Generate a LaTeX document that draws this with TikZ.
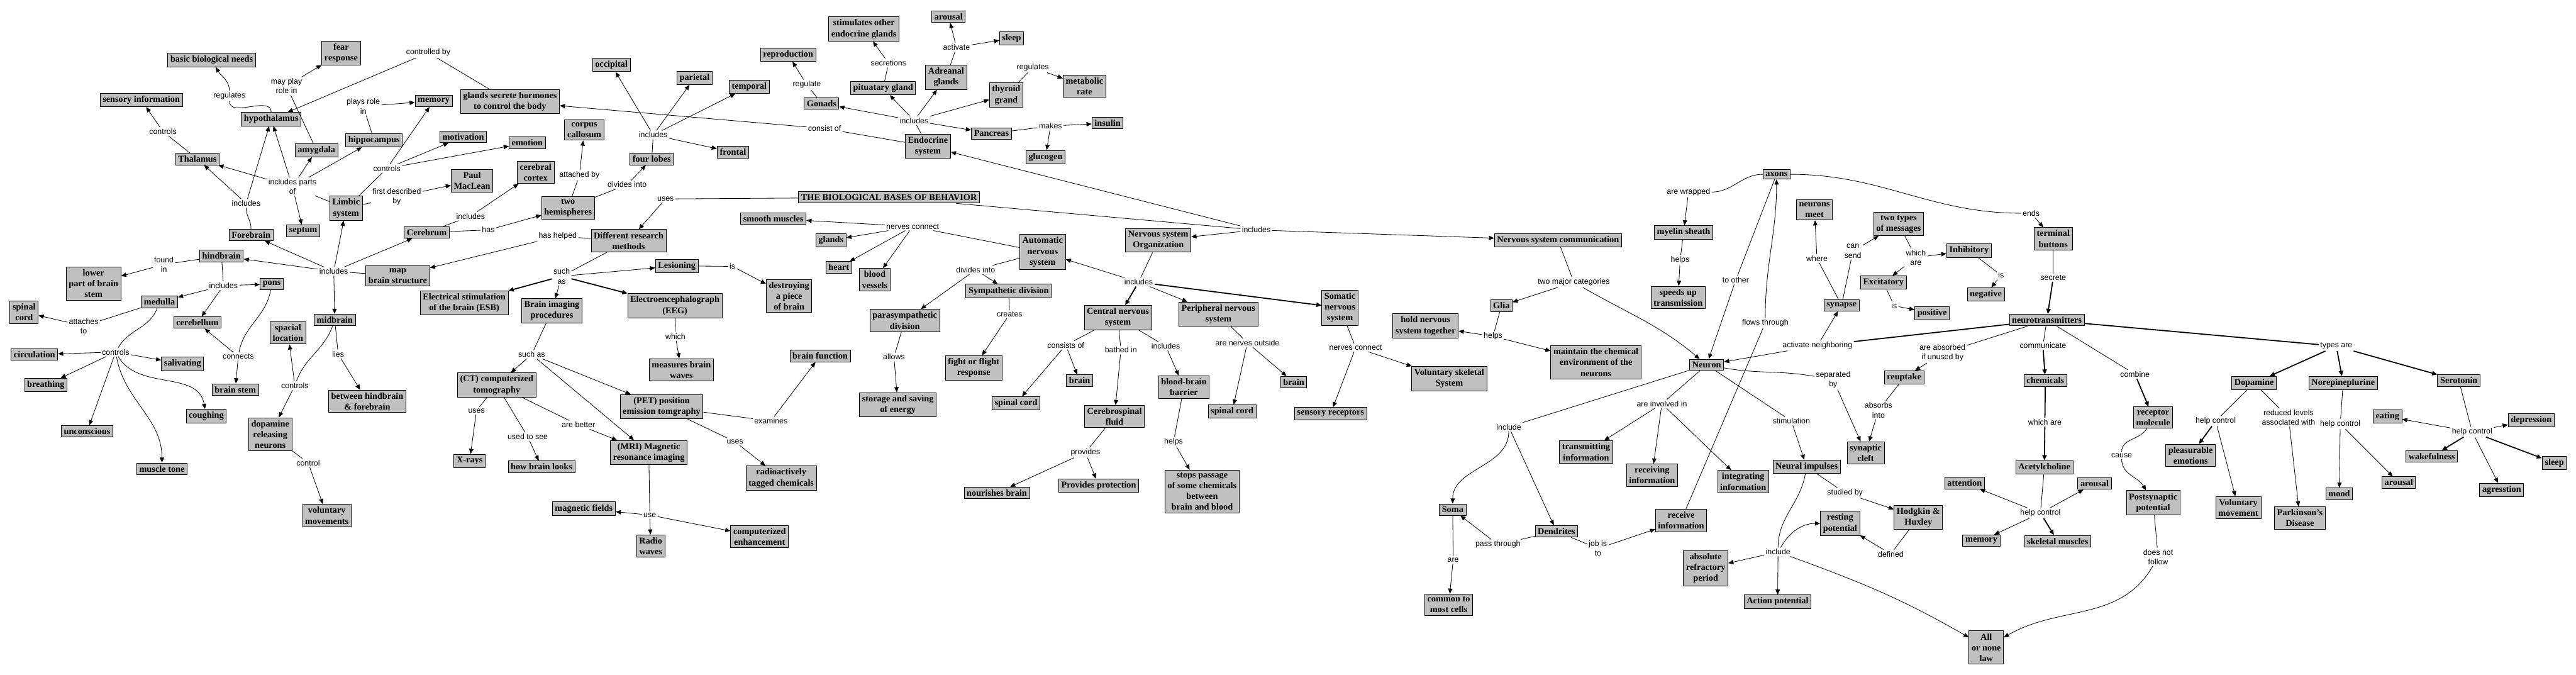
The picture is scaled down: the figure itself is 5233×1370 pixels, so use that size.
\documentclass[tikz,border=0pt]{standalone}
\usepackage{fontspec}
\usepackage{tikz}
\usetikzlibrary{arrows.meta}
\setmainfont{Liberation Serif}
\newfontfamily\linkfamily{Liberation Sans}
\definecolor{conceptGray}{RGB}{192, 192, 192}
\newcommand\conceptfont{\bfseries\fontsize{10.4}{12.5}\selectfont}
\newcommand\linkfont{\linkfamily\fontsize{9}{11}\selectfont}
\tikzset{
  concept/.style={draw, line width=0.7pt, fill=conceptGray, font=\conceptfont, align=center, inner xsep=3pt, inner ysep=3pt},
  link/.style={font=\linkfont, align=center, inner sep=1.5pt},
  arr/.style={-{Triangle[length=6pt,width=5pt]}},
  heavy/.style={line width=1.3pt}
}

\begin{document}
\begin{tikzpicture}[x=0.02cm, y=-0.02cm, line width=0.6pt]
  \fill[white] (0,0) rectangle (5233,1370);
  % brain structures
  \node[concept] (bio) at (430,122) {basic biological needs};
  \node[concept] (fear) at (693,108) {fear\\response};
  \node[concept] (sensory) at (287,203) {sensory information};
  \node[concept] (hypo) at (551,242) {hypothalamus};
  \node[concept] (memory) at (881,205) {memory};
  \node[concept] (hippo) at (760,285) {hippocampus};
  \node[concept] (amyg) at (643,305) {amygdala};
  \node[concept] (thal) at (401,323) {Thalamus};
  \node[concept] (limbic) at (703,423) {Limbic\\system};
  \node[concept] (septum) at (616,469) {septum};
  \node[concept] (fore) at (510,477) {Forebrain};
  \node[concept] (cerebrum) at (867,472) {Cerebrum};
  \node[concept] (hind) at (450,520) {hindbrain};
  \node[concept] (lower) at (190,576) {lower\\part of brain\\stem};
  \node[concept] (pons) at (552,577) {pons};
  \node[concept] (map) at (808,560) {map\\brain structure};
  \node[concept] (medulla) at (324,613) {medulla};
  \node[concept] (spinal) at (49,634) {spinal\\cord};
  \node[concept] (cerebellum) at (401,655) {cerebellum};
  \node[concept] (mid) at (680,650) {midbrain};
  \node[concept] (spacial) at (585,676) {spacial\\location};
  \node[concept] (circ) at (70,720) {circulation};
  \node[concept] (saliv) at (371,739) {salivating};
  \node[concept] (breath) at (93,782) {breathing};
  \node[concept] (stem) at (478,791) {brain stem};
  \node[concept] (cough) at (419,845) {coughing};
  \node[concept] (uncon) at (177,876) {unconscious};
  \node[concept] (tone) at (329,952) {muscle tone};
  \node[concept] (dopneur) at (549,882) {dopamine\\releasing\\neurons};
  \node[concept] (between) at (746,815) {between hindbrain\\\& forebrain};
  \node[concept] (volmov) at (664,1047) {voluntary\\movements};
  \node[concept] (glands) at (1036,206) {glands secrete hormones\\to control the body};
  \node[concept] (occ) at (1242,132) {occipital};
  \node[concept] (par) at (1411,158) {parietal};
  \node[concept] (temp) at (1522,176) {temporal};
  \node[concept] (frontal) at (1489,309) {frontal};
  \node[concept] (lobes) at (1324,323) {four lobes};
  \node[concept] (corpus) at (1187,264) {corpus\\callosum};
  \node[concept] (motiv) at (941,278) {motivation};
  \node[concept] (emotion) at (1071,290) {emotion};
  \node[concept] (paul) at (959,367) {Paul\\MacLean};
  \node[concept] (cortex) at (1088,350) {cerebral\\cortex};
  \node[concept] (hemi) at (1154,422) {two\\hemispheres};
  % research methods
  \node[concept] (title) at (1806,401) {THE BIOLOGICAL BASES OF BEHAVIOR};
  \node[concept] (methods) at (1277,489) {Different research\\methods};
  \node[concept] (lesion) at (1375,540) {Lesioning};
  \node[concept] (destroy) at (1603,601) {destroying\\a piece\\of brain};
  \node[concept] (esb) at (943,615) {Electrical stimulation\\of the brain (ESB)};
  \node[concept] (imaging) at (1121,631) {Brain imaging\\procedures};
  \node[concept] (eeg) at (1371,621) {Electroencephalograph\\(EEG)};
  \node[concept] (waves) at (1384,751) {measures brain\\waves};
  \node[concept] (ct) at (1009,782) {(CT) computerized\\tomography};
  \node[concept] (function) at (1666,723) {brain function};
  \node[concept] (pet) at (1344,826) {(PET) position\\emission tomgraphy};
  \node[concept] (xrays) at (954,936) {X-rays};
  \node[concept] (looks) at (1100,948) {how brain looks};
  \node[concept] (mri) at (1318,919) {(MRI) Magnetic\\resonance imaging};
  \node[concept] (radio) at (1587,971) {radioactively\\tagged chemicals};
  \node[concept] (fields) at (1186,1033) {magnetic fields};
  \node[concept] (enhance) at (1543,1090) {computerized\\enhancement};
  \node[concept] (rwaves) at (1322,1109) {Radio\\waves};
  % endocrine system
  \node[concept] (repro) at (1601,111) {reproduction};
  \node[concept] (gonads) at (1669,210) {Gonads};
  \node[concept] (stimul) at (1755,59) {stimulates other\\endocrine glands};
  \node[concept] (arousal) at (1927,34) {arousal};
  \node[concept] (sleep) at (2055,78) {sleep};
  \node[concept] (pit) at (1794,179) {pituatary gland};
  \node[concept] (adren) at (1922,157) {Adreanal\\glands};
  \node[concept] (thyroid) at (2044,193) {thyroid\\grand};
  \node[concept] (metab) at (2203,175) {metabolic\\rate};
  \node[concept] (pancreas) at (2014,271) {Pancreas};
  \node[concept] (insulin) at (2250,250) {insulin};
  \node[concept] (glucogen) at (2124,319) {glucogen};
  \node[concept] (endo) at (1885,297) {Endocrine\\system};
  % nervous system organization
  \node[concept] (smooth) at (1571,444) {smooth muscles};
  \node[concept] (glandsb) at (1688,488) {glands};
  \node[concept] (heart) at (1704,543) {heart};
  \node[concept] (vessels) at (1777,568) {blood\\vessels};
  \node[concept] (nso) at (2353,488) {Nervous system\\Organization};
  \node[concept] (ans) at (2118,512) {Automatic\\nervous\\system};
  \node[concept] (symp) at (2049,591) {Sympathetic division};
  \node[concept] (para) at (1838,651) {parasympathetic\\division};
  \node[concept] (cns) at (2271,645) {Central nervous\\system};
  \node[concept] (pns) at (2475,638) {Peripheral nervous\\system};
  \node[concept] (somatic) at (2722,625) {Somatic\\nervous\\system};
  \node[concept] (fight) at (1978,747) {fight or flight\\response};
  \node[concept] (storage) at (1824,822) {storage and saving\\of energy};
  \node[concept] (cnsspinal) at (2064,819) {spinal cord};
  \node[concept] (cnsbrain) at (2193,773) {brain};
  \node[concept] (csf) at (2264,846) {Cerebrospinal\\fluid};
  \node[concept] (bbb) at (2405,786) {blood-brain\\barrier};
  \node[concept] (pnsspinal) at (2503,836) {spinal cord};
  \node[concept] (nourish) at (2025,1001) {nourishes brain};
  \node[concept] (protect) at (2232,986) {Provides protection};
  \node[concept] (stops) at (2442,998) {stops passage\\of some chemicals\\between\\brain and blood};
  \node[concept] (pnsbrain) at (2628,776) {brain};
  \node[concept] (volskel) at (2944,769) {Voluntary skeletal\\System};
  \node[concept] (receptors) at (2703,840) {sensory receptors};
  % nervous system communication
  \node[concept] (nsc) at (3165,488) {Nervous system communication};
  \node[concept] (glia) at (3050,621) {Glia};
  \node[concept] (hold) at (2896,662) {hold nervous\\system together};
  \node[concept] (maintain) at (3242,736) {maintain the chemical\\environment of the\\neurons};
  \node[concept] (myelin) at (3420,472) {myelin sheath};
  \node[concept] (speeds) at (3409,604) {speeds up\\transmission};
  \node[concept] (axons) at (3609,354) {axons};
  \node[concept] (meet) at (3686,426) {neurons\\meet};
  \node[concept] (twotypes) at (3857,455) {two types\\of messages};
  \node[concept] (inhib) at (4000,509) {Inhibitory};
  \node[concept] (excit) at (3826,574) {Excitatory};
  \node[concept] (negative) at (4034,598) {negative};
  \node[concept] (positive) at (3925,636) {positive};
  \node[concept] (synapse) at (3741,620) {synapse};
  \node[concept] (terminal) at (4171,485) {terminal\\buttons};
  \node[concept] (nt) at (4158,650) {neurotransmitters};
  \node[concept] (neuron) at (3467,741) {Neuron};
  \node[concept] (transmit) at (3222,918) {transmitting\\information};
  \node[concept] (receiving) at (3356,965) {receiving\\information};
  \node[concept] (integ) at (3541,978) {integrating\\information};
  \node[concept] (soma) at (2951,1035) {Soma};
  \node[concept] (dendrites) at (3162,1079) {Dendrites};
  \node[concept] (receive) at (3415,1057) {receive\\information};
  \node[concept] (common) at (2943,1228) {common to\\most cells};
  \node[concept] (absolute) at (3465,1154) {absolute\\refractory\\period};
  \node[concept] (impulses) at (3670,948) {Neural impulses};
  \node[concept] (cleft) at (3790,920) {synaptic\\cleft};
  \node[concept] (reuptake) at (3868,767) {reuptake};
  \node[concept] (resting) at (3738,1063) {resting\\potential};
  \node[concept] (hodgkin) at (3897,1051) {Hodgkin \&\\Huxley};
  \node[concept] (action) at (3611,1222) {Action potential};
  \node[concept] (allnone) at (4035,1315) {All\\or none\\law};
  \node[concept] (chem) at (4155,773) {chemicals};
  \node[concept] (ach) at (4153,949) {Acetylcholine};
  \node[concept] (attention) at (3991,981) {attention};
  \node[concept] (acharousal) at (4255,982) {arousal};
  \node[concept] (achmemory) at (4025,1098) {memory};
  \node[concept] (skeletal) at (4180,1099) {skeletal muscles};
  \node[concept] (receptor) at (4374,848) {receptor\\molecule};
  \node[concept] (postsyn) at (4374,1021) {Postsynaptic\\potential};
  \node[concept] (dopa) at (4579,778) {Dopamine};
  \node[concept] (norep) at (4760,778) {Norepineplurine};
  \node[concept] (sero) at (4995,773) {Serotonin};
  \node[concept] (pleas) at (4450,925) {pleasurable\\emotions};
  \node[concept] (volmove) at (4547,1031) {Voluntary\\movement};
  \node[concept] (park) at (4672,1052) {Parkinson's\\Disease};
  \node[concept] (mood) at (4752,1003) {mood};
  \node[concept] (nearousal) at (4873,980) {arousal};
  \node[concept] (eating) at (4850,846) {eating};
  \node[concept] (depress) at (5142,853) {depression};
  \node[concept] (wake) at (4940,927) {wakefulness};
  \node[concept] (sersleep) at (5189,940) {sleep};
  \node[concept] (agress) at (5082,995) {agresstion};

  % linking phrases
  \node[link] (lMay) at (582,175) {may play\\role in};
  \node[link] (lCtrlBy) at (870,107) {controlled by};
  \node[link] (lReg) at (466,195) {regulates};
  \node[link] (lPlays) at (738,216) {plays role\\in};
  \node[link] (lThalCtrl) at (331,267) {controls};
  \node[link] (lLimbCtrl) at (786,342) {controls};
  \node[link] (lParts) at (594,379) {includes parts\\of};
  \node[link] (lFirst) at (806,400) {first described\\by};
  \node[link] (lForeInc) at (500,413) {includes};
  \node[link] (lFound) at (333,537) {found\\in};
  \node[link] (lMapInc) at (678,551) {includes};
  \node[link] (lHindInc) at (454,580) {includes};
  \node[link] (lAttach) at (170,662) {attaches\\to};
  \node[link] (lMedCtrl) at (235,715) {controls};
  \node[link] (lConnects) at (484,724) {connects};
  \node[link] (lMidCtrl) at (599,783) {controls};
  \node[link] (lLies) at (687,719) {lies};
  \node[link] (lControl) at (626,940) {control};
  \node[link] (lLobesInc) at (1327,274) {includes};
  \node[link] (lConsist) at (1675,261) {consist of};
  \node[link] (lRegulate) at (1639,172) {regulate};
  \node[link] (lAttached) at (1177,356) {attached by};
  \node[link] (lDivides) at (1274,375) {divides into};
  \node[link] (lUses) at (1352,404) {uses};
  \node[link] (lCereInc) at (956,439) {includes};
  \node[link] (lHas) at (992,467) {has};
  \node[link] (lHelped) at (1133,480) {has helped};
  \node[link] (lSuch) at (1141,561) {such\\as};
  \node[link] (lIs) at (1488,541) {is};
  \node[link] (lWhich) at (1372,683) {which};
  \node[link] (lSecret) at (1805,128) {secretions};
  \node[link] (lActivate) at (1943,96) {activate};
  \node[link] (lThyReg) at (2098,137) {regulates};
  \node[link] (lEndoInc) at (1857,245) {includes};
  \node[link] (lMakes) at (2134,256) {makes};
  \node[link] (lNerves) at (1854,460) {nerves connect};
  \node[link] (lTitleInc) at (2552,467) {includes};
  \node[link] (lAnsDiv) at (1982,548) {divides into};
  \node[link] (lNsoInc) at (2313,573) {includes};
  \node[link] (lCreates) at (2051,638) {creates};
  \node[link] (lSuchAs) at (1080,720) {such as};
  \node[link] (lCtUses) at (968,834) {uses};
  \node[link] (lUsedSee) at (1072,887) {used to see};
  \node[link] (lBetter) at (1175,863) {are better};
  \node[link] (lExamines) at (1566,855) {examines};
  \node[link] (lPetUses) at (1493,897) {uses};
  \node[link] (lUse) at (1320,1046) {use};
  \node[link] (lAllows) at (1816,725) {allows};
  \node[link] (lConsists) at (2165,701) {consists of};
  \node[link] (lBathed) at (2277,711) {bathed in};
  \node[link] (lCnsInc) at (2368,703) {includes};
  \node[link] (lOutside) at (2534,696) {are nerves outside};
  \node[link] (lProvides) at (2205,919) {provides};
  \node[link] (lBbbHelps) at (2384,897) {helps};
  \node[link] (lSomNerves) at (2754,706) {nerves connect};
  \node[link] (lWrapped) at (3430,390) {are wrapped};
  \node[link] (lMyHelps) at (3413,528) {helps};
  \node[link] (lTwoMajor) at (3197,573) {two major categories};
  \node[link] (lGliaHelps) at (3033,683) {helps};
  \node[link] (lToOther) at (3526,569) {to other};
  \node[link] (lFlows) at (3586,656) {flows through};
  \node[link] (lWhere) at (3691,525) {where};
  \node[link] (lCanSend) at (3764,510) {can\\send};
  \node[link] (lWhichAre) at (3892,523) {which\\are};
  \node[link] (lIsNeg) at (4065,559) {is};
  \node[link] (lIsPos) at (3848,621) {is};
  \node[link] (lEnds) at (4126,433) {ends};
  \node[link] (lSecrete) at (4171,564) {secrete};
  \node[link] (lInclude) at (3065,867) {include};
  \node[link] (lInvolved) at (3376,820) {are involved in};
  \node[link] (lPass) at (3043,1106) {pass through};
  \node[link] (lJob) at (3246,1114) {job is\\to};
  \node[link] (lAre) at (2952,1137) {are};
  \node[link] (lActNeigh) at (3692,702) {activate neighboring};
  \node[link] (lAbsorbed) at (3946,717) {are absorbed\\if unused by};
  \node[link] (lCommun) at (4150,702) {communicate};
  \node[link] (lSeparated) at (3724,771) {separated\\by};
  \node[link] (lStim) at (3639,855) {stimulation};
  \node[link] (lAbsorbs) at (3816,833) {absorbs\\into};
  \node[link] (lChemWhich) at (4154,857) {which are};
  \node[link] (lStudied) at (3748,1001) {studied by};
  \node[link] (lAchCtrl) at (4145,1042) {help control};
  \node[link] (lImpInc) at (3612,1121) {include};
  \node[link] (lDefined) at (3841,1125) {defined};
  \node[link] (lCombine) at (4337,760) {combine};
  \node[link] (lCause) at (4310,925) {cause};
  \node[link] (lTypes) at (4746,703) {types are};
  \node[link] (lDopaCtrl) at (4501,855) {help control};
  \node[link] (lReduced) at (4649,848) {reduced levels\\associated with};
  \node[link] (lNeCtrl) at (4754,861) {help control};
  \node[link] (lSeroCtrl) at (5022,877) {help control};
  \node[link] (lNotFollow) at (4384,1131) {does not\\follow};

  % connectors: brain
  \draw (hypo) to[out=90,in=-90] (lReg); \draw[arr] (lReg) to[out=90,in=-60] (bio);
  \draw (amyg) -- (lMay); \draw[arr] (lMay) -- (fear);
  \draw (glands) -- (lCtrlBy); \draw[arr] (lCtrlBy) -- (hypo);
  \draw (hippo) -- (lPlays); \draw[arr] (lPlays) -- (memory);
  \draw (thal) -- (lThalCtrl); \draw[arr] (lThalCtrl) -- (sensory);
  \draw (limbic) -- (lLimbCtrl); \draw[arr] (lLimbCtrl) edge (memory) edge (motiv) edge (emotion);
  \draw (limbic) -- (lParts); \draw[arr] (lParts) edge (thal) edge (hypo) edge (amyg) edge (hippo) edge (septum);
  \draw (limbic) -- (lFirst); \draw[arr] (lFirst) -- (paul);
  \draw (fore) to[out=90,in=-90] (lForeInc); \draw[arr] (lForeInc) edge (thal) edge (hypo);
  \draw (map) -- (lMapInc); \draw[arr] (lMapInc) edge (fore) edge (hind) edge (limbic) edge (cerebrum) edge (mid);
  \draw (hind) -- (lFound); \draw[arr] (lFound) -- (lower);
  \draw (hind) -- (lHindInc); \draw[arr] (lHindInc) edge (pons) edge (medulla) edge (cerebellum);
  \draw (medulla) -- (lAttach); \draw[arr] (lAttach) -- (spinal);
  \draw (medulla) to[out=-110,in=60] (lMedCtrl);
  \draw[arr] (lMedCtrl) edge (circ) edge (breath) edge (uncon) edge[out=-80,in=90] (tone) edge[out=-60,in=100] (cough) edge (saliv);
  \draw (pons) to[out=-100,in=80] (lConnects); \draw[arr] (lConnects) edge (cerebellum) edge (stem);
  \draw (mid) to[out=-110,in=70] (lMidCtrl); \draw[arr] (lMidCtrl) edge (spacial) edge (dopneur);
  \draw (mid) -- (lLies); \draw[arr] (lLies) -- (between);
  \draw (dopneur) -- (lControl); \draw[arr] (lControl) -- (volmov);
  \draw (cerebrum) -- (lCereInc); \draw[arr] (lCereInc) -- (cortex);
  \draw (cerebrum) -- (lHas); \draw[arr] (lHas) -- (hemi);
  \draw (hemi) -- (lAttached); \draw[arr] (lAttached) -- (corpus);
  \draw (hemi) -- (lDivides); \draw[arr] (lDivides) -- (lobes);
  \draw (lobes) -- (lLobesInc); \draw[arr] (lLobesInc) edge (occ) edge (par) edge (temp) edge (frontal);

  % connectors: research methods
  \draw (title) -- (lUses); \draw[arr] (lUses) -- (methods);
  \draw (methods) -- (lHelped); \draw[arr] (lHelped) -- (map);
  \draw (methods) -- (lSuch); \draw[arr] (lSuch) edge[heavy] (esb) edge (imaging) edge (lesion) edge[heavy] (eeg);
  \draw (lesion) -- (lIs); \draw[arr] (lIs) -- (destroy);
  \draw (eeg) -- (lWhich); \draw[arr] (lWhich) -- (waves);
  \draw (imaging) -- (lSuchAs); \draw[arr] (lSuchAs) edge (ct) edge (mri) edge (pet);
  \draw (ct) -- (lCtUses); \draw[arr] (lCtUses) -- (xrays);
  \draw (ct) -- (lUsedSee); \draw[arr] (lUsedSee) -- (looks);
  \draw (ct) -- (lBetter); \draw[arr] (lBetter) -- (mri);
  \draw (pet) -- (lExamines); \draw[arr] (lExamines) -- (function);
  \draw (pet) -- (lPetUses); \draw[arr] (lPetUses) -- (radio);
  \draw (mri) -- (lUse); \draw[arr] (lUse) edge (fields) edge (rwaves) edge (enhance);

  % connectors: endocrine
  \draw (title) -- (lTitleInc); \draw[arr] (lTitleInc) edge (endo) edge (nso) edge (nsc);
  \draw (endo) -- (lConsist); \draw[arr] (lConsist) -- (glands);
  \draw (endo) -- (lEndoInc); \draw[arr] (lEndoInc) edge (pit) edge (adren) edge (thyroid) edge (pancreas) edge (gonads);
  \draw (gonads) -- (lRegulate); \draw[arr] (lRegulate) -- (repro);
  \draw (pit) -- (lSecret); \draw[arr] (lSecret) -- (stimul);
  \draw (adren) -- (lActivate); \draw[arr] (lActivate) edge (arousal) edge (sleep);
  \draw (thyroid) -- (lThyReg); \draw[arr] (lThyReg) -- (metab);
  \draw (pancreas) -- (lMakes); \draw[arr] (lMakes) edge (insulin) edge (glucogen);

  % connectors: nervous system organization
  \draw (nso) -- (lNsoInc); \draw[arr] (lNsoInc) edge (ans) edge[heavy] (cns) edge (pns) edge[heavy] (somatic);
  \draw (ans) -- (lNerves); \draw[arr] (lNerves) edge (smooth) edge (glandsb) edge (heart) edge (vessels);
  \draw (ans) -- (lAnsDiv); \draw[arr] (lAnsDiv) edge (symp) edge (para);
  \draw (symp) -- (lCreates); \draw[arr] (lCreates) -- (fight);
  \draw (para) -- (lAllows); \draw[arr] (lAllows) -- (storage);
  \draw (cns) -- (lConsists); \draw[arr] (lConsists) edge (cnsspinal) edge (cnsbrain);
  \draw (cns) -- (lBathed); \draw[arr] (lBathed) -- (csf);
  \draw (cns) -- (lCnsInc); \draw[arr] (lCnsInc) -- (bbb);
  \draw (pns) -- (lOutside); \draw[arr] (lOutside) edge (pnsspinal) edge (pnsbrain);
  \draw (csf) -- (lProvides); \draw[arr] (lProvides) edge (nourish) edge (protect);
  \draw (bbb) -- (lBbbHelps); \draw[arr] (lBbbHelps) -- (stops);
  \draw (somatic) -- (lSomNerves); \draw[arr] (lSomNerves) edge (receptors) edge (volskel);

  % connectors: nervous system communication
  \draw (nsc) -- (lTwoMajor); \draw[arr] (lTwoMajor) edge (glia) edge[out=-30,in=140] (neuron);
  \draw (glia) -- (lGliaHelps); \draw[arr] (lGliaHelps) edge (hold) edge (maintain);
  \draw (axons) to[out=180,in=0] (lWrapped); \draw[arr] (lWrapped) -- (myelin);
  \draw (myelin) -- (lMyHelps); \draw[arr] (lMyHelps) -- (speeds);
  \draw (axons) -- (lToOther); \draw[arr] (lToOther) -- (neuron);
  \draw (receive) -- (lFlows); \draw[arr] (lFlows) to[out=90,in=-90] (axons);
  \draw (axons) to[out=0,in=180] (lEnds); \draw[arr] (lEnds) -- (terminal);
  \draw (terminal) -- (lSecrete); \draw[arr, heavy] (lSecrete) -- (nt);
  \draw (synapse) -- (lWhere); \draw[arr] (lWhere) -- (meet);
  \draw (synapse) -- (lCanSend); \draw[arr] (lCanSend) -- (twotypes);
  \draw (twotypes) -- (lWhichAre); \draw[arr] (lWhichAre) edge (inhib) edge (excit);
  \draw (inhib) -- (lIsNeg); \draw[arr] (lIsNeg) -- (negative);
  \draw (excit) -- (lIsPos); \draw[arr] (lIsPos) -- (positive);
  \draw (neuron) -- (lInclude); \draw[arr] (lInclude) edge[out=-90,in=90] (soma) edge (dendrites);
  \draw (neuron) -- (lInvolved); \draw[arr] (lInvolved) edge (transmit) edge (receiving) edge (integ);
  \draw (dendrites) -- (lPass); \draw[arr] (lPass) -- (soma);
  \draw (dendrites) -- (lJob); \draw[arr] (lJob) -- (receive);
  \draw (soma) -- (lAre); \draw[arr] (lAre) -- (common);
  \draw[heavy] (nt) -- (lActNeigh); \draw[arr] (lActNeigh) edge (neuron) edge (synapse);
  \draw (nt) -- (lAbsorbed); \draw[arr] (lAbsorbed) -- (reuptake);
  \draw (nt) -- (lCommun); \draw[arr, heavy] (lCommun) -- (chem);
  \draw (neuron) to[out=-10,in=170] (lSeparated); \draw[arr] (lSeparated) -- (cleft);
  \draw (neuron) -- (lStim); \draw[arr] (lStim) -- (impulses);
  \draw (reuptake) -- (lAbsorbs); \draw[arr] (lAbsorbs) -- (cleft);
  \draw[heavy] (chem) -- (lChemWhich); \draw[arr, heavy] (lChemWhich) -- (ach);
  \draw (impulses) -- (lStudied); \draw[arr] (lStudied) -- (hodgkin);
  \draw (hodgkin) -- (lDefined); \draw[arr] (lDefined) -- (resting);
  \draw (ach) -- (lAchCtrl); \draw[arr] (lAchCtrl) edge (attention) edge (acharousal) edge (achmemory) edge[heavy] (skeletal);
  \draw (impulses) to[out=-100,in=90] (lImpInc);
  \draw[arr] (lImpInc) edge[out=60,in=180] (resting) edge (absolute) edge (action) edge[out=-20,in=150] (allnone);
  \draw (nt) -- (lCombine); \draw[arr, heavy] (lCombine) -- (receptor);
  \draw (receptor) to[out=-120,in=90] (lCause); \draw[arr] (lCause) to[out=-90,in=120] (postsyn);
  \draw (postsyn) -- (lNotFollow); \draw[arr] (lNotFollow) to[out=-120,in=30] (allnone);
  \draw[heavy] (nt) -- (lTypes); \draw[arr, heavy] (lTypes) edge (dopa) edge (norep) edge (sero);
  \draw (dopa) -- (lDopaCtrl); \draw[arr] (lDopaCtrl) edge[heavy] (pleas) edge (volmove);
  \draw (dopa) -- (lReduced); \draw[arr] (lReduced) -- (park);
  \draw (norep) -- (lNeCtrl); \draw[arr] (lNeCtrl) edge (mood) edge (nearousal);
  \draw (sero) -- (lSeroCtrl); \draw[arr] (lSeroCtrl) edge (eating) edge (depress) edge[heavy] (wake) edge[heavy] (sersleep) edge (agress);
\end{tikzpicture}
\end{document}
